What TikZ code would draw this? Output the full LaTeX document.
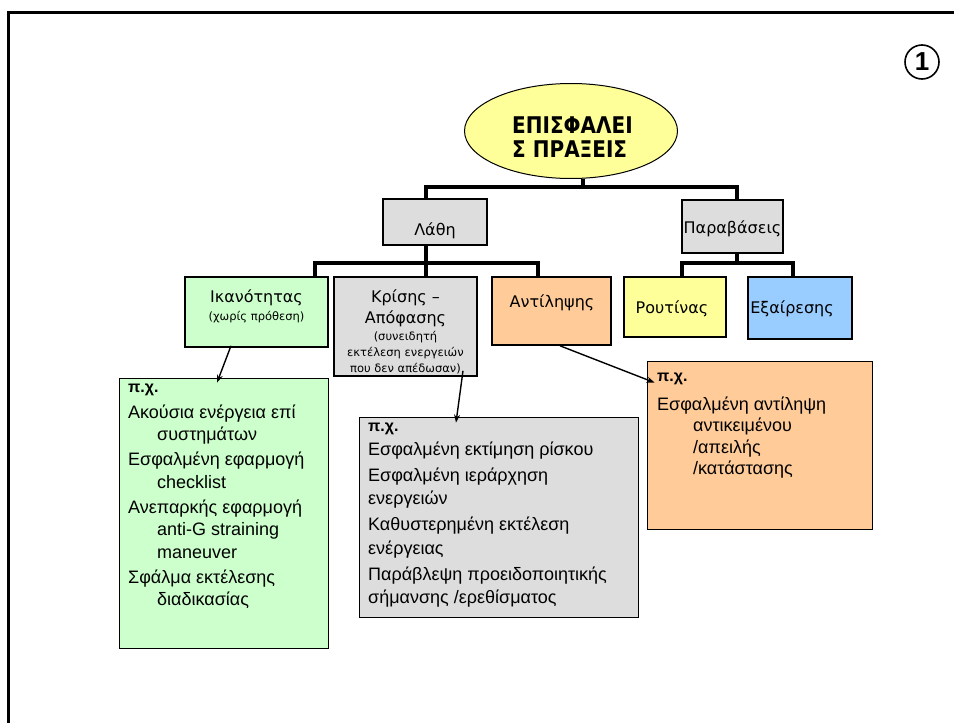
\documentclass[tikz,border=0pt]{standalone}
\usepackage{fontspec}
\setmainfont{DejaVu Sans}
\newfontfamily\tah{DejaVu Sans}
\newfontfamily\ari{Liberation Sans}
\newcommand\exheadfont{\ari\bfseries\fontsize{16}{18}\selectfont}
\usetikzlibrary{shapes.geometric,arrows.meta}
\definecolor{elfill}{HTML}{FFFF99}
\definecolor{grfill}{HTML}{CCFFCC}
\definecolor{gyfill}{HTML}{DDDDDD}
\definecolor{orfill}{HTML}{FFCC99}
\definecolor{ylfill}{HTML}{FFFF99}
\definecolor{blfill}{HTML}{99CCFF}
\begin{document}
\begin{tikzpicture}[x=1pt,y=-1pt,
  tree/.style={line width=4pt},
  catbox/.style={draw, line width=1.6pt, inner sep=0pt},
  exbox/.style={draw, line width=0.8pt, inner sep=0pt},
  lbl/.style={font=\tah\fontsize{16}{19}\selectfont, inner sep=0pt, anchor=base},
  sml/.style={font=\tah\fontsize{11.5}{14}\selectfont, inner sep=0pt, anchor=base},
  extext/.style={anchor=north west, align=left, inner sep=0pt},
  ptr/.style={line width=1.4pt, -{Stealth[length=8pt,width=6pt]}}
]
\useasboundingbox (0,0) rectangle (954,723);
% page frame
\draw[line width=3pt] (8,723) -- (8,12) -- (954,12);

% slide number
\node[circle, draw, line width=1.6pt, minimum size=34pt, inner sep=0pt,
      font=\ari\bfseries\fontsize{26}{26}\selectfont] (num) at (922,62) {1};

% root
\node[ellipse, draw, fill=elfill, line width=1pt, minimum width=213pt,
      minimum height=95pt] (ell) at (571,131) {};
\node[lbl, anchor=base west, font=\tah\bfseries\fontsize{23}{24}\selectfont]
      (title1) at (512,133) {\scalebox{0.87}[1]{ΕΠΙΣΦΑΛΕΙ}};
\node[lbl, anchor=base west, font=\tah\bfseries\fontsize{23}{24}\selectfont]
      (title2) at (512,157) {\scalebox{0.87}[1]{Σ ΠΡΑΞΕΙΣ}};

% first level
\node[catbox, fill=gyfill, minimum width=104pt, minimum height=46pt]
      (lathi) at (435,222) {};
\node[lbl] (lathit) at (435,235) {Λάθη};
\node[catbox, fill=gyfill, minimum width=101pt, minimum height=53pt]
      (parav) at (732.5,226.5) {};
\node[lbl] (paravt) at (732.5,233) {Παραβάσεις};

% second level
\node[catbox, fill=grfill, minimum width=143pt, minimum height=70pt]
      (ikan) at (256.5,312) {};
\node[lbl] (ikant) at (256.5,302) {Ικανότητας};
\node[sml] (ikans) at (256.5,320) {(χωρίς πρόθεση)};

\node[catbox, fill=gyfill, minimum width=143pt, minimum height=99pt]
      (kris) at (405.5,326.5) {};
\node[lbl] (krist1) at (405.5,302) {Κρίσης –};
\node[lbl] (krist2) at (405.5,323) {Απόφασης};
\node[sml] (kriss1) at (405.5,340) {(συνειδητή};
\node[sml] (kriss2) at (405.5,356) {εκτέλεση ενεργειών};
\node[sml] (kriss3) at (405.5,372) {που δεν απέδωσαν)};

\node[catbox, fill=orfill, minimum width=119pt, minimum height=68pt]
      (ant) at (551.5,311) {};
\node[lbl] (antt) at (552,307) {Αντίληψης};

\node[catbox, fill=ylfill, minimum width=102pt, minimum height=60pt]
      (rout) at (675,307) {};
\node[lbl] (routt) at (672,313) {Ρουτίνας};

\node[catbox, fill=blfill, minimum width=104pt, minimum height=62pt]
      (exair) at (800,308) {};
\node[lbl] (exairt) at (792,313) {Εξαίρεσης};

% tree connectors
\coordinate (j0) at (583,187);
\coordinate (jL) at (426,187);
\coordinate (jP) at (737,187);
\draw[tree] (ell.south -| j0) -- (j0);
\draw[tree] (lathi.north -| jL) -- (jL) -- (jP) -- (parav.north -| jP);
\draw[tree] (lathi.south -| jL) -- (kris.north -| jL);
\draw[tree] (ikan.north -| 315,0) -- (315,263) -- (538,263) -- (ant.north -| 538,0);
\draw[tree] (parav.south -| jP) -- (737,263);
\draw[tree] (rout.north -| 682,0) -- (682,263) -- (793,263) -- (exair.north -| 793,0);

% example boxes
\node[exbox, fill=grfill, minimum width=209pt, minimum height=270pt]
      (exg) at (223.5,513) {};
\node[extext, font=\ari\fontsize{18}{22.5}\selectfont] (exgt) at (128,384)
      {{\exheadfont π.χ.}\\[3pt]
       Ακούσια ενέργεια επί\\
       \hspace*{29pt}συστημάτων\\[2.5pt]
       Εσφαλμένη εφαρμογή\\
       \hspace*{29pt}checklist\\[2.5pt]
       Ανεπαρκής εφαρμογή\\
       \hspace*{29pt}anti-G straining\\
       \hspace*{29pt}maneuver\\[2.5pt]
       Σφάλμα εκτέλεσης\\
       \hspace*{29pt}διαδικασίας};

\node[exbox, fill=gyfill, minimum width=279pt, minimum height=200pt]
      (exy) at (498.5,517) {};
\node[extext, font=\ari\fontsize{18}{23.5}\selectfont] (exyt) at (368,423)
      {{\exheadfont π.χ.}\\[0pt]
       Εσφαλμένη εκτίμηση ρίσκου\\[2.5pt]
       Εσφαλμένη ιεράρχηση\\
       ενεργειών\\[2.5pt]
       Καθυστερημένη εκτέλεση\\
       ενέργειας\\[2.5pt]
       Παράβλεψη προειδοποιητικής\\
       σήμανσης /ερεθίσματος};

\node[exbox, fill=orfill, minimum width=225pt, minimum height=168pt]
      (exo) at (759.5,445) {};
\node[extext, font=\ari\fontsize{18}{21.5}\selectfont] (exot) at (657,373)
      {{\exheadfont π.χ.}\\[7pt]
       Εσφαλμένη αντίληψη\\
       \hspace*{36pt}αντικειμένου\\
       \hspace*{36pt}/απειλής\\
       \hspace*{36pt}/κατάστασης};

% pointers to the examples
\draw[ptr] ([xshift=-25.5pt,yshift=2pt]ikan.south) -- ([xshift=-6.5pt,yshift=-5pt]exg.north);
\draw[ptr] ([xshift=57.5pt,yshift=6pt]kris.south) -- ([xshift=-42.5pt,yshift=-6pt]exy.north);
\draw[ptr] ([xshift=8.5pt]ant.south) -- ([xshift=8pt,yshift=-22pt]exo.north west);
\end{tikzpicture}
\end{document}
